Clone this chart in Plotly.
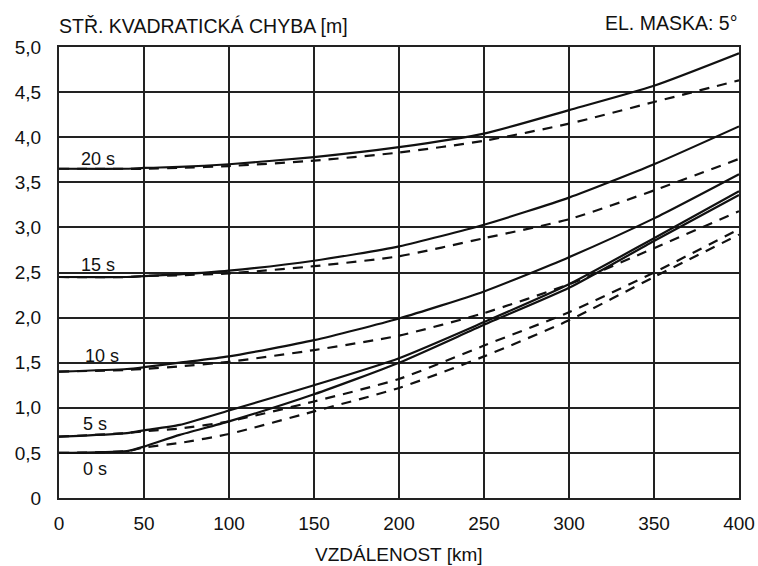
import plotly.graph_objects as go

distance_km = [0, 40, 50, 71, 100, 150, 200, 250, 300, 350, 400]

# solid curves
solid_0s  = [0.50, 0.52, 0.57, 0.70, 0.85, 1.15, 1.50, 1.92, 2.33, 2.85, 3.36]
solid_5s  = [0.68, 0.72, 0.75, 0.81, 0.97, 1.25, 1.55, 1.95, 2.37, 2.88, 3.40]
solid_10s = [1.40, 1.43, 1.45, 1.50, 1.57, 1.75, 1.99, 2.29, 2.67, 3.10, 3.59]
solid_15s = [2.45, 2.45, 2.46, 2.48, 2.52, 2.63, 2.79, 3.03, 3.33, 3.70, 4.12]
solid_20s = [3.65, 3.65, 3.66, 3.67, 3.70, 3.78, 3.89, 4.04, 4.30, 4.57, 4.93]

# dashed curves
dashed_0s  = [0.50, 0.52, 0.56, 0.61, 0.71, 0.96, 1.22, 1.57, 1.97, 2.45, 2.92]
dashed_5s  = [0.68, 0.72, 0.74, 0.77, 0.85, 1.07, 1.32, 1.69, 2.06, 2.50, 2.98]
dashed_10s = [1.40, 1.42, 1.43, 1.46, 1.51, 1.64, 1.80, 2.05, 2.37, 2.77, 3.18]
dashed_15s = [2.45, 2.45, 2.46, 2.47, 2.49, 2.57, 2.68, 2.88, 3.09, 3.41, 3.76]
dashed_20s = [3.65, 3.65, 3.65, 3.66, 3.68, 3.74, 3.83, 3.96, 4.15, 4.39, 4.63]

curve_labels = ["20 s", "15 s", "10 s", "5 s", "0 s"]
label_x = [23, 23, 25, 21, 21]
label_y = [3.76, 2.58, 1.57, 0.82, 0.32]

x_tickvals = [0, 50, 100, 150, 200, 250, 300, 350, 400]
x_ticktext = ["0", "50", "100", "150", "200", "250", "300", "350", "400"]
y_tickvals = [0, 0.5, 1.0, 1.5, 2.0, 2.5, 3.0, 3.5, 4.0, 4.5, 5.0]
y_ticktext = ["0", "0,5", "1,0", "1,5", "2,0", "2,5", "3,0", "3,5", "4,0", "4,5", "5,0"]

title_left = "STŘ. KVADRATICKÁ CHYBA [m]"
title_right = "EL. MASKA: 5°"
x_title = "VZDÁLENOST [km]"

FONT = "Liberation Sans, Arial, sans-serif"
INK = "#111111"

fig = go.Figure()

for ys in [dashed_0s, dashed_5s, dashed_10s, dashed_15s, dashed_20s]:
    fig.add_trace(go.Scatter(x=distance_km, y=ys, mode="lines",
                             line=dict(color=INK, width=2.2, dash="10px,8px", shape="spline", smoothing=0.6),
                             showlegend=False, hoverinfo="skip"))
for ys in [solid_0s, solid_5s, solid_10s, solid_15s, solid_20s]:
    fig.add_trace(go.Scatter(x=distance_km, y=ys, mode="lines",
                             line=dict(color=INK, width=2.2, shape="spline", smoothing=0.6),
                             showlegend=False, hoverinfo="skip"))

for t, lx, ly in zip(curve_labels, label_x, label_y):
    fig.add_annotation(x=lx, y=ly, text=t, showarrow=False, xanchor="center", yanchor="middle",
                       font=dict(family=FONT, size=18, color=INK))

fig.add_annotation(xref="paper", yref="paper", x=0, y=1, xanchor="left", yanchor="middle", yshift=21,
                   xshift=-2, text=title_left, showarrow=False, font=dict(family=FONT, size=19.5, color=INK))
fig.add_annotation(xref="paper", yref="paper", x=1, y=1, xanchor="right", yanchor="middle", yshift=24,
                   xshift=0, text=title_right, showarrow=False, font=dict(family=FONT, size=19.5, color=INK))
fig.add_annotation(xref="paper", yref="paper", x=0.5, y=0, xanchor="center", yanchor="middle", yshift=-56,
                   text=x_title, showarrow=False, font=dict(family=FONT, size=19, color=INK))

axis_common = dict(showgrid=True, gridcolor="#222222", gridwidth=1.8, zeroline=False,
                   showline=True, linecolor="#222222", linewidth=2, mirror=True,
                   ticks="outside", tickcolor="rgba(0,0,0,0)", automargin=False,
                   tickfont=dict(family=FONT, size=19, color=INK), fixedrange=True)

fig.update_xaxes(range=[0, 400], tickvals=x_tickvals, ticktext=x_ticktext, ticklen=7, **axis_common)
fig.update_yaxes(range=[0, 5], tickvals=y_tickvals, ticktext=y_ticktext, ticklen=12, **axis_common)

fig.update_layout(width=758, height=566, margin=dict(l=59, r=19, t=47, b=68),
                  paper_bgcolor="white", plot_bgcolor="white", showlegend=False)

fig.write_html("out.html")
